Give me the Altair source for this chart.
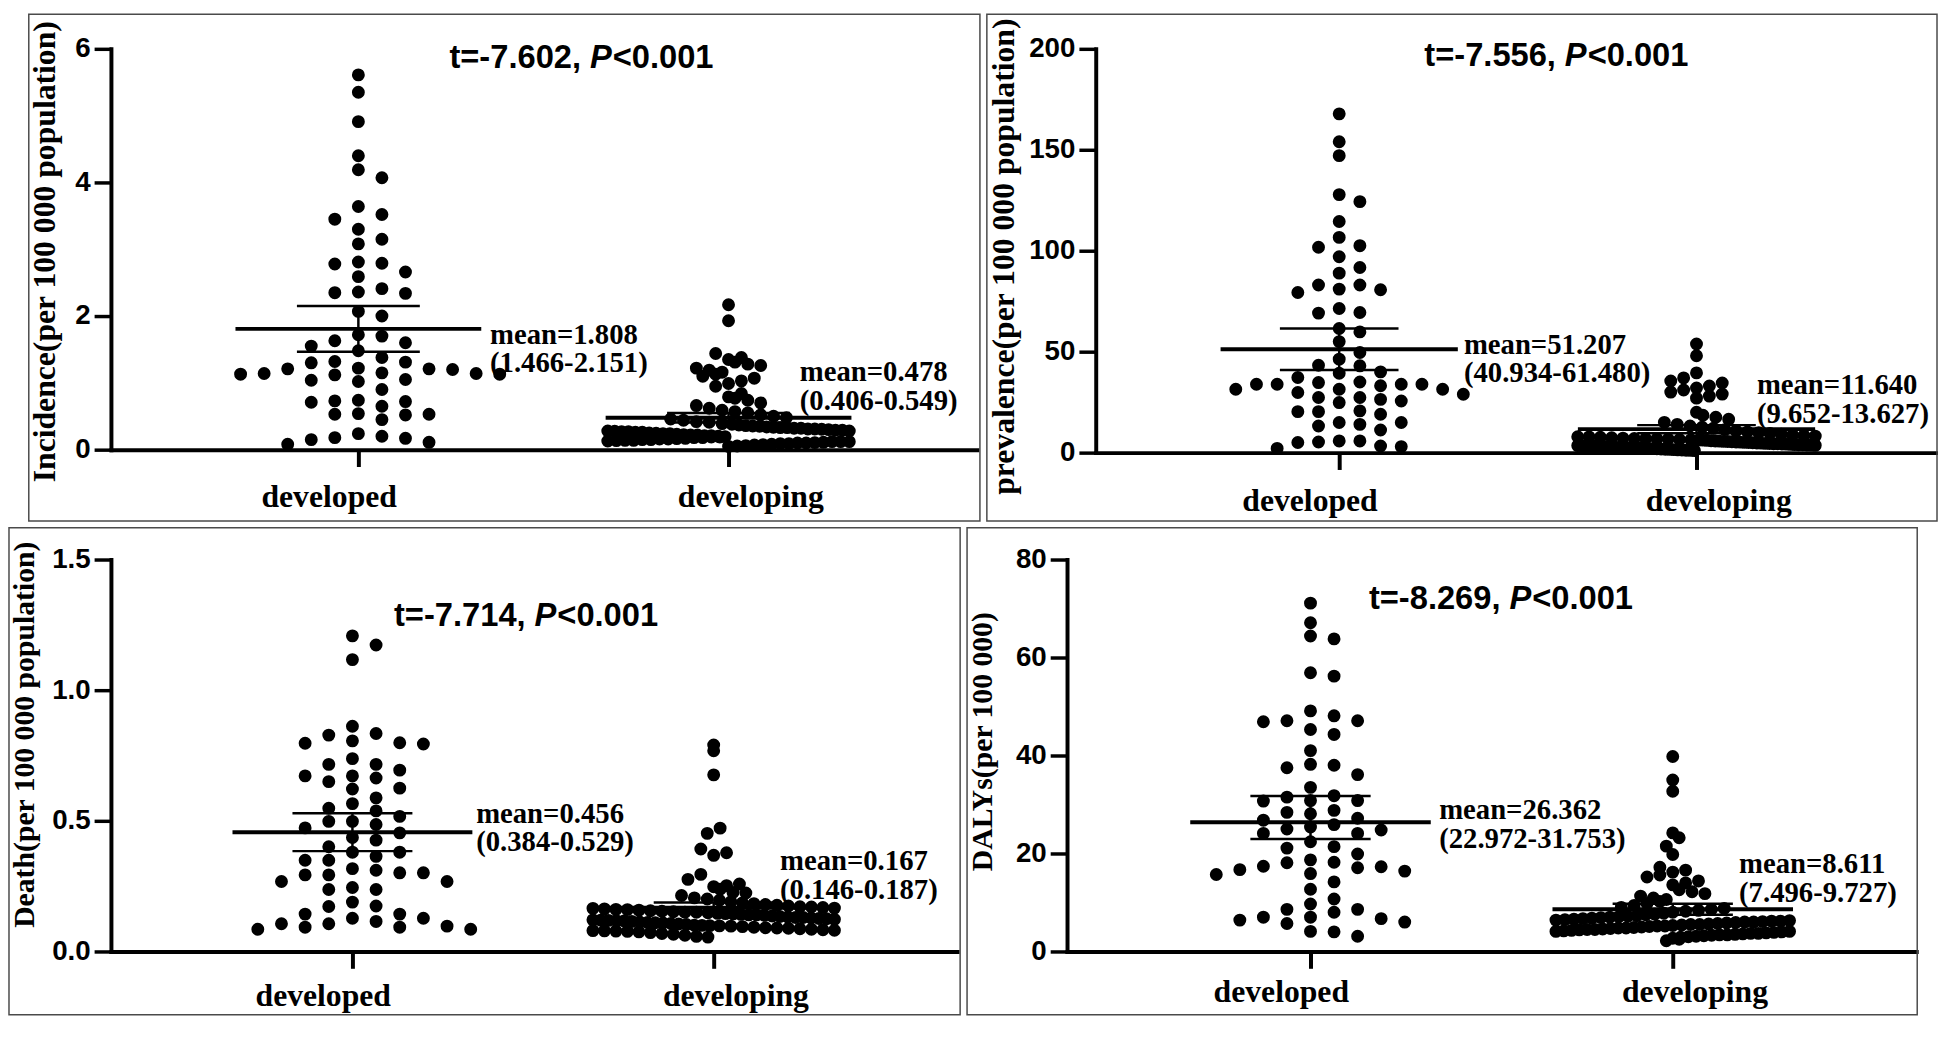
import altair as alt
import pandas as pd

# ------------------------------------------------------------------ data
CATS = ["developed", "developing"]
t_values = [-7.602, -7.556, -7.714, -8.269]

inc_mean = [1.808, 0.478]
inc_lo = [1.466, 0.406]
inc_hi = [2.151, 0.549]
prev_mean = [51.207, 11.640]
prev_lo = [40.934, 9.652]
prev_hi = [61.480, 13.627]
death_mean = [0.456, 0.167]
death_lo = [0.384, 0.146]
death_hi = [0.529, 0.187]
daly_mean = [26.362, 8.611]
daly_lo = [22.972, 7.496]
daly_hi = [31.753, 9.727]

inc_developed = [5.61, 5.35, 4.91, 4.40, 4.19, 4.07, 3.64, 3.52, 3.45, 3.30, 3.15, 3.08,
                 2.81, 2.79, 2.78, 2.66, 2.59, 2.41, 2.36, 2.35, 2.34, 2.07, 2.00, 1.72,
                 1.70, 1.63, 1.60, 1.55, 1.48, 1.38, 1.32, 1.31, 1.30, 1.22, 1.21, 1.21,
                 1.20, 1.15, 1.14, 1.14, 1.13, 1.13, 1.12, 1.05, 1.04, 1.02, 0.90, 0.74,
                 0.73, 0.72, 0.71, 0.65, 0.54, 0.53, 0.53, 0.52, 0.45, 0.24, 0.20, 0.18,
                 0.17, 0.15, 0.11, 0.08]
inc_developing = [2.17, 1.93, 1.44, 1.38, 1.35, 1.31, 1.28, 1.26, 1.22, 1.19, 1.16, 1.13,
                  1.10, 1.07, 1.03, 0.99, 0.95, 0.84, 0.79, 0.77, 0.74, 0.70, 0.66, 0.62,
                  0.59, 0.57, 0.55, 0.52, 0.50, 0.48, 0.46, 0.44, 0.42, 0.41, 0.39, 0.38,
                  0.37, 0.36, 0.355, 0.35, 0.34, 0.335, 0.33, 0.32, 0.32, 0.31, 0.305, 0.30,
                  0.29, 0.29, 0.28, 0.275, 0.27, 0.26, 0.26, 0.25, 0.245, 0.24, 0.23, 0.225,
                  0.22, 0.21, 0.21, 0.20, 0.195, 0.19, 0.18, 0.18, 0.17, 0.165, 0.16, 0.15,
                  0.15, 0.14, 0.135, 0.13, 0.12, 0.12, 0.11, 0.105, 0.10, 0.09, 0.09, 0.08,
                  0.075, 0.07, 0.06, 0.055, 0.05, 0.33, 0.28, 0.24, 0.19, 0.14, 0.10, 0.31,
                  0.27, 0.22, 0.16, 0.12]

prev_developed = [167.8, 154.0, 147.1, 127.8, 124.3, 114.5, 106.6, 102.5, 101.7, 97.0,
                  91.7, 88.9, 83.0, 83.0, 80.7, 81.0, 79.3, 71.4, 69.1, 69.4, 61.5, 59.8,
                  55.0, 49.6, 46.3, 43.3, 43.0, 40.0, 39.3, 37.2, 35.0, 34.7, 33.9, 33.9,
                  33.9, 33.9, 33.1, 31.4, 31.4, 31.4, 29.8, 28.9, 27.3, 27.3, 26.4, 25.6,
                  24.8, 20.7, 20.3, 20.3, 19.0, 14.9, 14.9, 14.0, 13.2, 11.2, 5.8, 5.8,
                  5.3, 5.0, 3.3, 3.0, 2.1]
prev_developing = [53.8, 48.0, 39.5, 37.0, 35.5, 34.5, 33.0, 32.0, 31.0, 30.0, 29.0, 28.0,
                   27.0, 20.0, 18.5, 17.5, 16.5, 15.0, 14.0, 13.2, 12.6, 12.1, 11.4, 10.8,
                   10.3, 9.9, 9.5, 9.1, 8.7, 8.4, 8.2, 7.9, 7.6, 7.4, 7.2, 7.0, 6.8, 6.7,
                   6.5, 6.4, 6.2, 6.1, 5.9, 5.8, 5.7, 5.5, 5.4, 5.3, 5.2, 5.0, 4.9, 4.8,
                   4.7, 4.6, 4.5, 4.4, 4.3, 4.2, 4.1, 4.0, 3.9, 3.8, 3.7, 3.6, 3.5, 3.4,
                   3.3, 3.2, 3.1, 3.0, 2.9, 2.8, 2.7, 2.6, 2.5, 2.4, 2.3, 2.2, 2.1, 2.0,
                   1.9, 1.8, 1.7, 1.6, 1.5, 1.4, 1.3, 1.2, 1.1, 1.0, 6.3, 5.6, 4.4, 3.3,
                   2.6, 7.8, 6.9, 5.1, 3.9, 2.2]

death_developed = [1.208, 1.173, 1.117, 0.862, 0.834, 0.828, 0.806, 0.799, 0.797, 0.794,
                   0.738, 0.716, 0.716, 0.694, 0.672, 0.672, 0.664, 0.650, 0.625, 0.622,
                   0.588, 0.566, 0.548, 0.538, 0.517, 0.498, 0.498, 0.486, 0.473, 0.454,
                   0.436, 0.426, 0.401, 0.380, 0.380, 0.364, 0.349, 0.349, 0.317, 0.311,
                   0.301, 0.301, 0.293, 0.293, 0.268, 0.268, 0.245, 0.237, 0.237, 0.189,
                   0.174, 0.172, 0.143, 0.143, 0.127, 0.127, 0.115, 0.106, 0.106, 0.097,
                   0.093, 0.093, 0.085, 0.085]
death_developing = [0.790, 0.768, 0.676, 0.472, 0.452, 0.392, 0.378, 0.368, 0.295, 0.276,
                    0.258, 0.252, 0.248, 0.238, 0.226, 0.224, 0.214, 0.205, 0.201, 0.196,
                    0.190, 0.186, 0.183, 0.180, 0.177, 0.174, 0.171, 0.168, 0.166, 0.163,
                    0.161, 0.158, 0.156, 0.154, 0.152, 0.150, 0.148, 0.146, 0.144, 0.142,
                    0.140, 0.138, 0.136, 0.134, 0.132, 0.130, 0.128, 0.126, 0.125, 0.123,
                    0.121, 0.119, 0.117, 0.115, 0.113, 0.111, 0.109, 0.107, 0.105, 0.103,
                    0.101, 0.099, 0.097, 0.095, 0.093, 0.091, 0.089, 0.087, 0.085, 0.083,
                    0.081, 0.079, 0.077, 0.075, 0.072, 0.069, 0.066, 0.062, 0.058, 0.055,
                    0.170, 0.160, 0.150, 0.140, 0.130, 0.120, 0.110, 0.100, 0.090, 0.080,
                    0.165, 0.145, 0.118, 0.098, 0.078]

daly_developed = [71.1, 67.1, 64.4, 63.8, 56.9, 56.2, 49.1, 48.1, 47.1, 47.1, 46.9, 45.3,
                  44.3, 41.0, 38.2, 38.0, 37.5, 36.1, 33.5, 31.8, 31.5, 30.8, 30.8, 30.7,
                  28.8, 28.4, 28.1, 27.2, 26.8, 25.9, 25.4, 25.0, 24.8, 24.1, 24.1, 22.4,
                  21.4, 21.1, 19.9, 18.7, 18.2, 18.1, 17.4, 17.3, 17.1, 16.7, 16.4, 15.9,
                  15.7, 14.2, 12.7, 10.7, 9.7, 8.6, 8.6, 8.0, 7.0, 7.0, 6.7, 6.4, 6.0,
                  5.7, 4.1, 4.0, 3.1]
daly_developing = [39.8, 35.0, 32.7, 24.2, 23.2, 21.5, 19.8, 17.2, 16.6, 16.2, 15.6, 15.2,
                   14.4, 14.0, 13.6, 12.6, 12.2, 11.8, 11.3, 10.9, 10.6, 10.2, 9.8, 9.4,
                   9.0, 8.8, 8.6, 8.4, 8.2, 8.0, 7.8, 7.6, 7.5, 7.3, 7.2, 7.0, 6.9, 6.8,
                   6.7, 6.6, 6.5, 6.4, 6.3, 6.2, 6.1, 6.0, 5.9, 5.8, 5.7, 5.6, 5.5, 5.4,
                   5.3, 5.2, 5.1, 5.0, 4.9, 4.8, 4.7, 4.6, 4.5, 4.4, 4.3, 4.2, 4.1, 4.0,
                   3.9, 3.8, 3.7, 3.6, 3.5, 3.4, 3.3, 3.2, 3.1, 3.0, 2.9, 2.7, 2.5, 2.2,
                   6.2, 5.5, 4.8, 4.1, 3.4, 7.1, 6.0, 5.2, 4.5, 3.7]

# ------------------------------------------------------------------ layout
DOT_AREA = 170
DOT_D = 13.0
ONE = pd.DataFrame({"k": [0]})

# L: box-left -> y axis, W: plot width, RR: right pad, T: box-top -> plot top,
# H: plot height, BB: below x axis; c0/c1: category centres from the y axis
PANELS = [
    dict(dev=inc_developed, dvg=inc_developing, mean=inc_mean, lo=inc_lo, hi=inc_hi,
         t=t_values[0], ytitle="Incidence(per 100 000 population)", yfs=32, ymax=6,
         yticks=[0, 2, 4, 6], fmt="d", L=83, W=875, RR=3, T=35, H=405, BB=72,
         c0=250, c1=624, tx=-67, ty=205, ttl=(342, 19), m0=(383, 298),
         m1=(696, 336), xlab=57, s_dev=23.8, band=122),
    dict(dev=prev_developed, dvg=prev_developing, mean=prev_mean, lo=prev_lo, hi=prev_hi,
         t=t_values[1], ytitle="prevalence(per 100 000 population)", yfs=32, ymax=200,
         yticks=[0, 50, 100, 150, 200], fmt="d", L=110, W=849, RR=1, T=35, H=408, BB=69,
         c0=246, c1=607, tx=-93, ty=210, ttl=(332, 17), m0=(372, 308),
         m1=(668, 349), xlab=58, s_dev=20.9, band=120),
    dict(dev=death_developed, dvg=death_developing, mean=death_mean, lo=death_lo, hi=death_hi,
         t=t_values[2], ytitle="Death(per 100 000 population)", yfs=30, ymax=1.5,
         yticks=[0, 0.5, 1.0, 1.5], fmt=".1f", L=103, W=855, RR=3, T=32, H=396, BB=64,
         c0=244, c1=609, tx=-87, ty=177, ttl=(286, 67), m0=(369, 266),
         m1=(676, 314), xlab=55, s_dev=23.9, band=122),
    dict(dev=daly_developed, dvg=daly_developing, mean=daly_mean, lo=daly_lo, hi=daly_hi,
         t=t_values[3], ytitle="DALYs(per 100 000)", yfs=30, ymax=80,
         yticks=[0, 20, 40, 60, 80], fmt="d", L=101, W=858, RR=1, T=32, H=396, BB=64,
         c0=246, c1=612, tx=-85, ty=184, ttl=(305, 50), m0=(376, 262),
         m1=(679, 317), xlab=51, s_dev=23.8, band=118),
]


def swarm_cols(vals, d_units):
    """Greedy column swarm: each point takes the column nearest the centre
    where it does not collide vertically with points already placed."""
    order = sorted(range(len(vals)), key=lambda i: -vals[i])
    cols = {}
    out = [0] * len(vals)
    for i in order:
        v = vals[i]
        k = 0
        while True:
            c = ((k + 1) // 2) * (1 if k % 2 == 1 else -1)
            if all(abs(v - u) >= d_units for u in cols.get(c, [])):
                cols.setdefault(c, []).append(v)
                out[i] = c
                break
            k += 1
    return out


def binned_offsets(vals, h_units, s_max, half_max):
    """Prism-like row layout: points are binned by value, each bin is spread
    horizontally and centred, compressed to fit the column width."""
    bins = {}
    for i, v in enumerate(vals):
        bins.setdefault(int(v // h_units), []).append(i)
    out = [0.0] * len(vals)
    for idx in bins.values():
        idx.sort(key=lambda i: vals[i])
        n = len(idx)
        s = s_max if n <= 1 else min(s_max, 2 * half_max / (n - 1))
        slots = sorted(range(n), key=lambda k: (abs(k - (n - 1) / 2), k))
        mix = []
        lo, hi = 0, n - 1
        while lo <= hi:
            mix.append(idx[lo]); lo += 1
            if lo <= hi:
                mix.append(idx[hi]); hi -= 1
        for slot, i in zip(slots, mix):
            out[i] = (slot - (n - 1) / 2) * s
    return out


def txt(s, x, y, size, font, style="normal", line_height=None, angle=None,
        align="left", baseline="alphabetic"):
    kw = dict(text=s, font=font, fontSize=size, fontWeight="bold", fontStyle=style,
              align=align, baseline=baseline, color="black")
    if line_height is not None:
        kw["lineHeight"] = line_height
    if angle is not None:
        kw["angle"] = angle
    return alt.Chart(ONE).mark_text(**kw).encode(x=alt.value(x), y=alt.value(y))


def panel(p):
    W, H, L, T = p["W"], p["H"], p["L"], p["T"]
    spacing = p["c1"] - p["c0"]
    xmin = -p["c0"] / spacing
    xmax = xmin + W / spacing
    px_per_y = H / p["ymax"]
    d_units = DOT_D / px_per_y

    xs, ys = [], []
    cdev = swarm_cols(p["dev"], d_units)
    for v, c in zip(p["dev"], cdev):
        xs.append(0 + c * p["s_dev"] / spacing)
        ys.append(v)
    odvg = binned_offsets(p["dvg"], d_units, 13.0, p["band"])
    for v, o in zip(p["dvg"], odvg):
        xs.append(1 + o / spacing)
        ys.append(v)
    pts = pd.DataFrame({"x": xs, "y": ys})

    hw, cw = 0.332, 0.166
    st = pd.DataFrame({"cx": [0, 1], "mean": p["mean"], "lo": p["lo"], "hi": p["hi"]})
    st["xl"] = st["cx"] - hw
    st["xr"] = st["cx"] + hw
    st["cl"] = st["cx"] - cw
    st["cr"] = st["cx"] + cw

    xs_ = alt.Scale(domain=[xmin, xmax], nice=False, zero=False)
    ys_ = alt.Scale(domain=[0, p["ymax"]], nice=False, zero=True)

    xaxis = alt.Axis(
        values=[0, 1], labelExpr="datum.value < 0.5 ? 'developed' : 'developing'",
        title=None, grid=False, domainWidth=4, domainColor="black", domainCap="square",
        tickWidth=4, tickColor="black", tickSize=17,
        labelFont="Liberation Serif", labelFontSize=32, labelFontWeight="bold",
        labelColor="black", labelBaseline="alphabetic",
        labelPadding=p["xlab"] - 17, labelFlush=False, labelOverlap=False,
        labelOffset={"condition": {"test": "datum.value < 0.5", "value": -30},
                     "value": 22},
    )
    yaxis = alt.Axis(
        values=p["yticks"], format=p["fmt"], title=None,
        labelFont="Liberation Sans", labelFontSize=28, labelFontWeight="bold",
        labelColor="black", labelPadding=4, tickSize=17, tickWidth=3.5,
        tickColor="black", domainWidth=4, domainColor="black", domainCap="square",
        grid=False, labelFlush=False,
    )

    border = alt.Chart(ONE).mark_rect(
        fillOpacity=0, stroke="#4a4a4a", strokeWidth=1.5
    ).encode(
        x=alt.value(-L), x2=alt.value(W + p["RR"]),
        y=alt.value(-T), y2=alt.value(H + p["BB"]),
    )
    points = alt.Chart(pts).mark_circle(size=DOT_AREA, color="black", opacity=1).encode(
        x=alt.X("x:Q", scale=xs_, axis=xaxis),
        y=alt.Y("y:Q", scale=ys_, axis=yaxis),
    )
    base = alt.Chart(st)
    mean_rule = base.mark_rule(color="black", strokeWidth=4).encode(
        x=alt.X("xl:Q", scale=xs_), x2="xr:Q", y=alt.Y("mean:Q", scale=ys_))
    ci_rule = base.mark_rule(color="black", strokeWidth=2.5).encode(
        x=alt.X("cx:Q", scale=xs_), y=alt.Y("lo:Q", scale=ys_), y2="hi:Q")
    cap_lo = base.mark_rule(color="black", strokeWidth=2.5).encode(
        x=alt.X("cl:Q", scale=xs_), x2="cr:Q", y=alt.Y("lo:Q", scale=ys_))
    cap_hi = base.mark_rule(color="black", strokeWidth=2.5).encode(
        x=alt.X("cl:Q", scale=xs_), x2="cr:Q", y=alt.Y("hi:Q", scale=ys_))

    ytitle = txt(p["ytitle"], p["tx"], p["ty"], p["yfs"], "Liberation Serif",
                 angle=270, align="center", baseline="middle")

    tx0, ty0 = p["ttl"]
    title_a = txt(f"t={p['t']:.3f},", tx0, ty0, 33, "Liberation Sans")
    title_p = txt("P", tx0 + 142, ty0, 33, "Liberation Sans", style="italic")
    title_c = txt("<0.001", tx0 + 165, ty0, 33, "Liberation Sans")

    labels = []
    for i, key in enumerate(["m0", "m1"]):
        mx, b1 = p[key]
        lines = [f"mean={p['mean'][i]:.3f}", f"({p['lo'][i]:.3f}-{p['hi'][i]:.3f})"]
        labels.append(txt(lines, mx, b1, 29, "Liberation Serif", line_height=29))

    return alt.layer(border, points, mean_rule, ci_rule, cap_lo, cap_hi, ytitle,
                     title_a, title_p, title_c, *labels).properties(width=W, height=H)


charts = [panel(p) for p in PANELS]
chart = alt.vconcat(
    alt.hconcat(charts[0], charts[1], spacing=5),
    alt.hconcat(charts[2], charts[3], spacing=5),
    spacing=5,
).properties(padding=0, background="white").configure_view(stroke=None)

chart.save("out.html", embed_options={"renderer": "svg", "actions": False})
